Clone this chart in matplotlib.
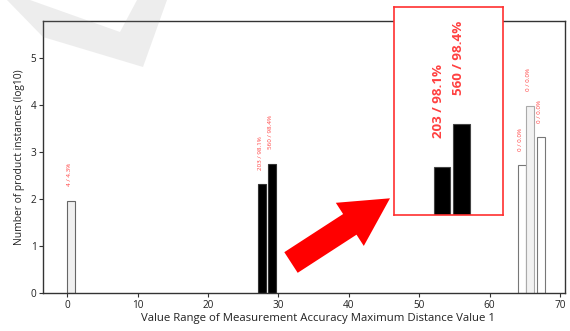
import numpy as np
import matplotlib
matplotlib.use("Agg")
import matplotlib.pyplot as plt
import matplotlib.patches as mpatches
from matplotlib.transforms import IdentityTransform

plt.rcParams['font.family'] = ['Open Sans', 'DejaVu Sans']

# Bins of the "Measurement Accuracy Maximum Distance Value 1" range
bin_left = [0.0, 27.1, 28.5, 64.0, 65.2, 66.7]
total_instances = [93, 207, 569, 525, 9800, 2100]
correct_instances = [4, 203, 560, 0, 0, 0]
bar_fill = ['#f0f0f0', 'black', 'black', 'white', '#f2f2f2', 'white']
bar_edge = ['#666666', '#333333', '#333333', '#777777', '#aaaaaa', '#777777']

x_ticks = [0, 10, 20, 30, 40, 50, 60, 70]
y_ticks = [0, 1, 2, 3, 4, 5]

heights = np.log10(total_instances)
labels = [f"{c} / {100.0 * c / t:.1f}%" for c, t in zip(correct_instances, total_instances)]

W, H = 570, 331
fig = plt.figure(figsize=(W / 100, H / 100), dpi=100)
ax = fig.add_axes([43.3 / W, 1 - 293 / H, (565 - 43.3) / W, (293 - 21) / H])

bar_w = 1.1
ax.bar(bin_left, heights, width=bar_w, align='edge', color=bar_fill,
       edgecolor=bar_edge, linewidth=0.8, zorder=2)
for x, h, lab in zip(bin_left, heights, labels):
    ax.text(x + 0.35, h + 0.3, lab, rotation=90, ha='center', va='bottom',
            color='#ff4040', fontsize=4.5)

ax.set_xlim(-3.4, 70.7)
ax.set_ylim(0, 5.79)
ax.set_xticks(x_ticks)
ax.set_yticks(y_ticks)
ax.tick_params(labelsize=7.2, length=3, width=0.8, color='#333333', labelcolor='#222222', pad=2)
for s in ax.spines.values():
    s.set_linewidth(1.0)
    s.set_color('#333333')
ax.set_xlabel("Value Range of Measurement Accuracy Maximum Distance Value 1",
              fontsize=8.2, color='#222222', labelpad=3)
ax.xaxis.set_label_coords(0.5275, -0.075)
ax.set_ylabel("Number of product instances (log10)", fontsize=7.4,
              color='#222222', labelpad=4)

# Magnified view of the two dominant bins
ins = fig.add_axes([394 / W, 1 - 215 / H, 109 / W, 208 / H])
ins.bar(bin_left[1:3], heights[1:3], width=bar_w * 1.08, align='edge',
        color=bar_fill[1:3], edgecolor='#444444', linewidth=0.8, zorder=2)
for x, h, lab in zip(bin_left[1:3], heights[1:3], labels[1:3]):
    ins.text(x + 0.35, h + 0.3, lab, rotation=90, ha='center', va='bottom',
             color='#ff4040', fontsize=9.6, fontweight='bold')
ins.set_xlim(24.3, 32.0)
ins.set_ylim(1.83, 3.95)
ins.set_xticks([])
ins.set_yticks([])
for s in ins.spines.values():
    s.set_color('#ff3030')
    s.set_linewidth(1.2)

# Pointer arrow towards the magnified view (pixel coordinates, origin bottom-left)
tail = np.array([291.0, H - 262.5])
tip = np.array([390.0, H - 198.3])
d = tip - tail
arrow = mpatches.FancyArrow(tail[0], tail[1], d[0], d[1], width=24.6,
                            head_width=51.4, head_length=47.9,
                            length_includes_head=True, color='#ff0000',
                            linewidth=0, transform=IdentityTransform())
fig.patches.append(arrow)

# Faint check-mark watermark in the top-left corner
mark = [(7, 0), (30, 0), (120, 32), (137, 0), (167, 0), (143, 67), (43, 37)]
mark = [(x, H - y) for x, y in mark]
wm = mpatches.Polygon(mark, closed=True, facecolor='#888888', alpha=0.15,
                      linewidth=0, transform=IdentityTransform())
fig.patches.append(wm)

fig.savefig("out.png", dpi=100)
